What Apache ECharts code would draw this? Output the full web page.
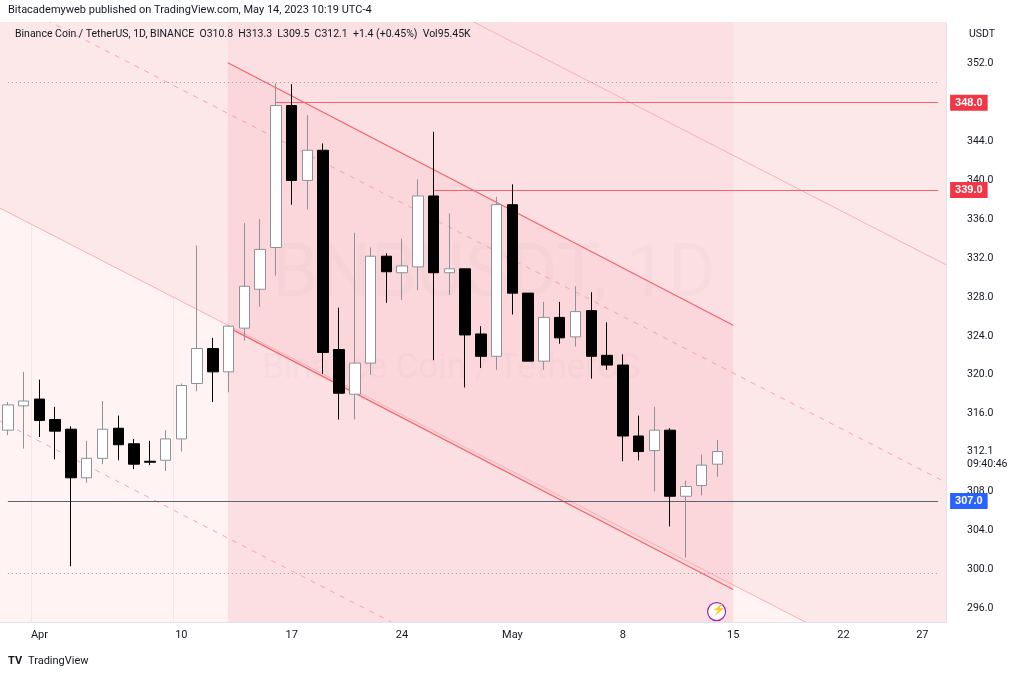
<!DOCTYPE html>
<html>
<head>
<meta charset="utf-8">
<script src="https://cdn.jsdelivr.net/npm/echarts@6/dist/echarts.min.js"></script>
<style>
html,body{margin:0;padding:0;background:#fff;}
#main{width:1024px;height:677px;}
</style>
</head>
<body>
<div id="main"></div>
<script>
// 日期（3月30日 - 5月28日）
var days = ['03-30','03-31','04-01','04-02','04-03','04-04','04-05','04-06','04-07','04-08',
    '04-09','04-10','04-11','04-12','04-13','04-14','04-15','04-16','04-17','04-18',
    '04-19','04-20','04-21','04-22','04-23','04-24','04-25','04-26','04-27','04-28',
    '04-29','04-30','05-01','05-02','05-03','05-04','05-05','05-06','05-07','05-08',
    '05-09','05-10','05-11','05-12','05-13','05-14','05-15','05-16','05-17','05-18',
    '05-19','05-20','05-21','05-22','05-23','05-24','05-25','05-26','05-27','05-28'];
// 轴上显示的日期 -> 文字
var dayLabels = {'04-01':'Apr','04-10':'10','04-17':'17','04-24':'24','05-01':'May',
    '05-08':'8','05-15':'15','05-22':'22','05-27':'27'};
// [open, close, low, high]
var ohlc = [
    [314.3,316.9,313.8,317.2],[316.8,317.3,312.4,320.3],[317.5,315.3,313.6,319.5],[315.4,314.2,311.3,316.7],
    [314.4,309.4,300.3,314.7],[309.4,311.4,308.9,313.2],[311.4,314.4,310.8,317.3],[314.5,312.8,311.2,315.8],
    [312.9,310.8,310.3,313.4],[311.1,311.0,310.7,313.2],[311.2,313.4,310.1,314.3],[313.4,318.9,312.1,319.1],
    [319.1,322.7,318.3,333.3],[322.7,320.3,317.2,323.8],[320.3,325.0,318.2,325.1],[324.8,329.1,323.5,335.6],
    [328.8,332.9,327.0,336.0],[333.1,347.7,330.2,350.0],[347.7,340.0,337.5,349.9],[340.0,343.1,337.0,346.7],
    [343.1,322.3,320.1,343.8],[322.6,318.1,315.4,326.9],[318.0,321.2,315.4,334.6],[321.2,332.2,320.0,333.1],
    [332.2,330.6,327.4,332.5],[330.5,331.2,327.7,334.0],[331.1,338.4,328.7,340.1],[338.4,330.5,321.5,345.0],
    [330.5,330.9,328.2,336.6],[330.9,324.1,318.7,330.9],[324.2,321.9,320.7,325.0],[321.9,337.5,320.5,338.3],
    [337.5,328.4,326.2,339.6],[328.4,321.4,321.4,328.4],[321.4,325.9,320.5,327.5],[325.9,323.8,323.2,327.5],
    [323.9,326.5,322.9,329.1],[326.6,321.9,319.6,328.5],[322.0,321.0,320.5,325.4],[321.0,313.7,311.1,322.1],
    [313.7,312.1,311.2,315.8],[312.2,314.3,308.0,316.7],[314.3,307.5,304.4,314.5],[307.5,308.5,301.2,309.1],
    [308.6,310.7,307.6,311.8],[310.8,312.1,309.5,313.3]
];
var priceTicks = [296,300,304,308,316,320,324,328,332,336,340,344,352];

// 回归通道（[日期序号, 价格]）
var outerUpper = [[-5,385.1],[66,325.9]];
var outerMid = [[-5,362.7],[66,303.5]];
var outerLower = [[-5,340.9],[66,281.7]];
var lowerDash = [[-5,319.0],[66,259.8]];
var innerUpper = [[13.95,352.1],[46.0,325.1]];
var innerLower = [[13.95,324.9],[46.0,297.9]];
var innerRange = [13.95,46.0];
var hLevels = [348.0,339.0,307.0];
var hStarts = ['04-16','04-26','03-30'];
var dotLevels = [350.15,299.6];

var dom = document.getElementById('main');
var myChart = echarts.init(dom);

function px(api, idx, p) {
    var a = api.coord([0, p]);
    var b = api.coord([1, p]);
    return [a[0] + (b[0] - a[0]) * idx, a[1]];
}
function yAt(line, idx) {
    var t = (idx - line[0][0]) / (line[1][0] - line[0][0]);
    return line[0][1] + (line[1][1] - line[0][1]) * t;
}

function channelItem(params, api) {
    var cs = params.coordSys;
    var top = cs.y, bot = cs.y + cs.height;
    var L = function (line, i) { return px(api, line[i][0], line[i][1]); };
    var lo0 = L(outerLower, 0), lo1 = L(outerLower, 1);
    var ia = innerRange[0], ib = innerRange[1];
    var iu0 = px(api, ia, yAt(innerUpper, ia)), iu1 = px(api, ib, yAt(innerUpper, ib));
    var il0 = px(api, ia, yAt(innerLower, ia)), il1 = px(api, ib, yAt(innerLower, ib));
    var children = [
        {type: 'polygon', shape: {points: [lo0, lo1, [lo1[0], top], [lo0[0], top]]}, style: {fill: '#fde8e9'}},
        {type: 'rect', shape: {x: iu0[0], y: top, width: iu1[0] - iu0[0], height: bot - top}, style: {fill: '#fcdfe2'}},
        {type: 'polygon', shape: {points: [iu0, iu1, il1, il0]}, style: {fill: '#fbd6db'}}
    ];
    var lines = [
        [outerUpper, '#f7b0b4', null, 1],
        [outerLower, '#f7b0b4', null, 1],
        [outerMid, '#f4a6ab', [5, 6], 1],
        [lowerDash, '#f4a6ab', [5, 6], 1]
    ];
    lines.forEach(function (d) {
        var p0 = L(d[0], 0), p1 = L(d[0], 1);
        children.push({type: 'line', shape: {x1: p0[0], y1: p0[1], x2: p1[0], y2: p1[1]},
            style: {stroke: d[1], lineWidth: d[3], lineDash: d[2]}});
    });
    children.push({type: 'line', shape: {x1: iu0[0], y1: iu0[1], x2: iu1[0], y2: iu1[1]}, style: {stroke: '#f2636d', lineWidth: 1.2}});
    children.push({type: 'line', shape: {x1: il0[0], y1: il0[1], x2: il1[0], y2: il1[1]}, style: {stroke: '#f2636d', lineWidth: 1.2}});
    // 水印
    children.push({type: 'text', x: cs.x + 272, y: 240, style: {text: 'BNBUSDT, 1D', fill: 'rgba(150,150,160,0.05)', font: '74px Roboto'}});
    children.push({type: 'text', x: cs.x + 262, y: 352, style: {text: 'Binance Coin / TetherUS', fill: 'rgba(150,150,160,0.05)', font: '35px Roboto'}});
    return {
        type: 'group',
        clipPath: {type: 'rect', shape: {x: cs.x, y: cs.y, width: cs.width, height: cs.height}},
        children: children
    };
}

var hColors = ['#f23645', '#f23645', '#2962ff'];
var hLineColors = ['#f0646e', '#f0646e', '#5a6478'];
var markData = hLevels.map(function (v, i) {
    return [
        {coord: [hStarts[i], v], lineStyle: {color: hLineColors[i], width: 1, type: 'solid'},
            label: {show: true, position: 'end', formatter: v.toFixed(1), backgroundColor: hColors[i],
                color: '#fff', padding: [3, 5, 2, 5], fontSize: 11, fontWeight: 'bold', distance: 12}},
        {coord: ['05-28', v]}
    ];
});
dotLevels.forEach(function (v) {
    markData.push([
        {coord: ['03-30', v], lineStyle: {color: '#9598a1', width: 1, type: [1, 3]}, label: {show: false}},
        {coord: ['05-28', v]}
    ]);
});

option = {
    backgroundColor: '#ffffff',
    animation: false,
    grid: {left: 0, right: 78, top: 22, bottom: 55, show: true, backgroundColor: '#fff3f4', borderWidth: 0},
    xAxis: {
        type: 'category',
        data: days,
        boundaryGap: true,
        axisLine: {show: true, lineStyle: {color: '#e0e3eb'}},
        axisTick: {show: false},
        axisLabel: {
            color: '#131722', fontSize: 11, margin: 8, fontFamily: 'Roboto',
            interval: function (i, v) { return dayLabels[v] !== undefined; },
            formatter: function (v) { return dayLabels[v] || ''; }
        },
        splitLine: {show: true, interval: function (i, v) { return dayLabels[v] !== undefined; },
            lineStyle: {color: 'rgba(200,200,210,0.25)'}}
    },
    yAxis: {
        type: 'value',
        position: 'right',
        min: 294.56,
        max: 356.3,
        scale: true,
        axisLine: {show: true, lineStyle: {color: '#e0e3eb'}},
        axisTick: {show: false},
        axisLabel: {color: '#131722', fontSize: 10.5, margin: 21, fontFamily: 'Roboto',
            customValues: priceTicks, formatter: function (v) { return v.toFixed(1); }},
        splitLine: {show: false}
    },
    graphic: [
        {type: 'text', left: 8, top: 5, style: {text: 'Bitacademyweb published on TradingView.com, May 14, 2023 10:19 UTC-4', fill: '#131722', font: '11px Roboto'}},
        {type: 'text', left: 15, top: 29, z: 100, style: {text: 'Binance Coin / TetherUS, 1D, BINANCE  O310.8  H313.3  L309.5  C312.1  +1.4 (+0.45%)  Vol95.45K', fill: '#131722', font: '10.5px Roboto'}},
        {type: 'text', left: 969, top: 29, style: {text: 'USDT', fill: '#131722', font: '10.5px Roboto'}},
        {type: 'text', left: 967, top: 445, style: {text: '312.1\n09:40:46', fill: '#131722', font: '10.5px Roboto', lineHeight: 13}},
        {type: 'circle', left: 707, top: 602, z: 100, shape: {r: 9}, style: {fill: '#fff', stroke: '#9c27b0', lineWidth: 1.2}},
        {type: 'text', left: 712, top: 604, z: 101, style: {text: '⚡', fill: '#9c27b0', font: '11px sans-serif'}},
        {type: 'text', left: 8, top: 656, style: {text: 'TV', fill: '#131722', font: 'bold 11px Roboto'}},
        {type: 'text', left: 28, top: 656, style: {text: 'TradingView', fill: '#131722', font: '11px Roboto'}}
    ],
    series: [
        {
            type: 'custom',
            renderItem: channelItem,
            data: [[0, 320]],
            z: 1,
            silent: true
        },
        {
            type: 'candlestick',
            z: 5,
            barWidth: 11,
            data: ohlc,
            itemStyle: {color: '#ffffff', color0: '#000000', borderColor: '#8f9199', borderColor0: '#000000', borderWidth: 1},
            markLine: {symbol: 'none', silent: true, data: markData}
        }
    ]
};

if (option && typeof option === "object") {
    myChart.setOption(option, true);
}
</script>
</body>
</html>
